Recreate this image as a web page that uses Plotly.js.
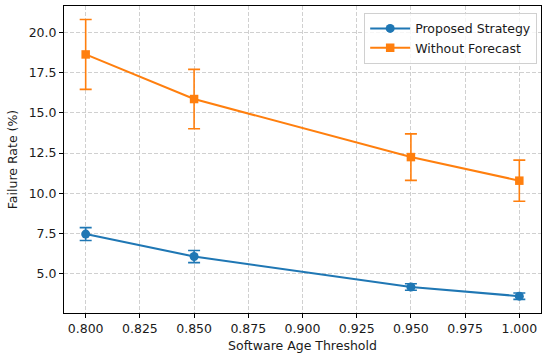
<!DOCTYPE html>
<html><head><meta charset="utf-8">
<script src="https://cdn.plot.ly/plotly-3.0.1.min.js"></script>
<style>html,body{margin:0;padding:0;background:#fff}#plot{width:550px;height:360px}</style>
</head><body><div id="plot"></div>
<script>
const thresholds = [0.80, 0.85, 0.95, 1.00];
const proposed = [7.45, 6.05, 4.15, 3.58];
const proposedErr = [0.40, 0.38, 0.20, 0.20];
const withoutForecast = [18.65, 15.87, 12.25, 10.78];
const withoutErr = [2.18, 1.85, 1.45, 1.28];
const xTicks = [0.800, 0.825, 0.850, 0.875, 0.900, 0.925, 0.950, 0.975, 1.000];
const yTicks = [5.0, 7.5, 10.0, 12.5, 15.0, 17.5, 20.0];

const font = "DejaVu Sans, sans-serif";
const fs = 12.5;
const traces = [
  {x: thresholds, y: proposed, name: "Proposed Strategy", mode: "lines+markers", type: "scatter",
   line: {color: "#1f77b4", width: 2}, marker: {symbol: "circle", size: 9, color: "#1f77b4"},
   error_y: {type: "data", array: proposedErr, visible: true, color: "#1f77b4", thickness: 1.6, width: 6}},
  {x: thresholds, y: withoutForecast, name: "Without Forecast", mode: "lines+markers", type: "scatter",
   line: {color: "#ff7f0e", width: 2}, marker: {symbol: "square", size: 8.5, color: "#ff7f0e"},
   error_y: {type: "data", array: withoutErr, visible: true, color: "#ff7f0e", thickness: 1.6, width: 6}}
];
const axisCommon = {showline: true, linecolor: "#000", linewidth: 1, mirror: true, ticks: "outside",
  ticklen: 4, tickcolor: "#000", showgrid: true, gridcolor: "#d0d0d0", griddash: "4px,2px", gridwidth: 1,
  zeroline: false, tickfont: {family: font, size: fs, color: "#1a1a1a"}};
const layout = {
  width: 550, height: 360, margin: {l: 64, r: 9, t: 6, b: 47},
  paper_bgcolor: "#fff", plot_bgcolor: "#fff", font: {family: font, size: fs, color: "#1a1a1a"},
  xaxis: Object.assign({}, axisCommon, {range: [0.79, 1.01], tickvals: xTicks,
    ticktext: xTicks.map(v => v.toFixed(3)),
    title: {text: "Software Age Threshold", font: {family: font, size: fs}, standoff: 6}}),
  yaxis: Object.assign({}, axisCommon, {range: [2.53, 21.67], tickvals: yTicks,
    ticktext: yTicks.map(v => v.toFixed(1)),
    title: {text: "Failure Rate (%)", font: {family: font, size: fs}, standoff: 8}}),
  legend: {x: 0.992, y: 0.978, xanchor: "right", yanchor: "top", bgcolor: "rgba(255,255,255,0.8)",
    bordercolor: "#d0d0d0", borderwidth: 1, font: {family: font, size: fs, color: "#1a1a1a"},
    tracegroupgap: 0, itemwidth: 40},
  showlegend: true
};
Plotly.newPlot("plot", traces, layout, {displayModeBar: false, staticPlot: true});
</script></body></html>
